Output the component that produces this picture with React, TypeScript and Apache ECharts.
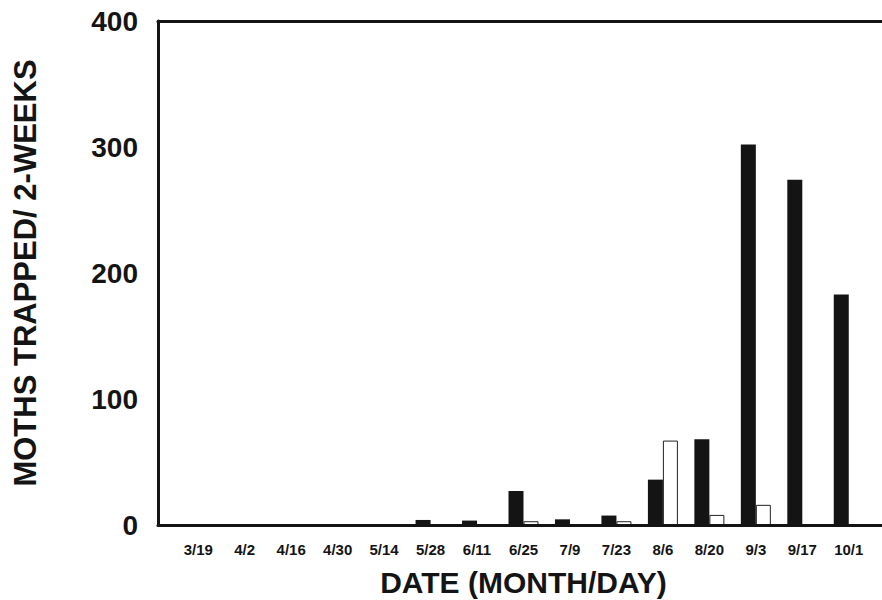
import React, { useEffect, useRef } from "react";
import * as echarts from "echarts";

const dates = ["3/19", "4/2", "4/16", "4/30", "5/14", "5/28", "6/11", "6/25", "7/9", "7/23", "8/6", "8/20", "9/3", "9/17", "10/1"];
const blackValues = [0, 0, 0, 0, 0, 4, 3.5, 27, 4.5, 7.5, 36, 68, 302, 274, 183];
const whiteValues = [0, 0, 0, 0, 0, 0, 0, 3, 0, 3, 67, 8, 16, 0, 0];
const yTicks = [0, 100, 200, 300, 400];

const FONT = "'Liberation Sans', Arial, Helvetica, sans-serif";
const INK = "#141414";

const nz = (arr: number[]) => arr.map((v) => (v === 0 ? null : v));

export default function App() {
  const ref = useRef<HTMLDivElement>(null);
  useEffect(() => {
    if (!ref.current) return;
    const chart = echarts.init(ref.current, undefined, { renderer: "svg" });
    const yMin = yTicks[0];
    const yMax = yTicks[yTicks.length - 1];
    const yInterval = yTicks[1] - yTicks[0];
    chart.setOption({
      animation: false,
      backgroundColor: "#ffffff",
      grid: [
        { left: 158, right: 0, top: 21, bottom: 75, containLabel: false, outerBoundsMode: "none" },
        { left: 175, right: 10, top: 21, bottom: 75, containLabel: false, outerBoundsMode: "none" },
      ],
      xAxis: [
        {
          gridIndex: 0,
          type: "category",
          data: [""],
          position: "bottom",
          axisLine: { show: true, lineStyle: { color: INK, width: 3 } },
          axisTick: { show: false },
          axisLabel: { show: false },
          splitLine: { show: false },
          z: 10,
        },
        {
          gridIndex: 0,
          type: "category",
          data: [""],
          position: "top",
          axisLine: { show: true, lineStyle: { color: INK, width: 3 } },
          axisTick: { show: false },
          axisLabel: { show: false },
          splitLine: { show: false },
        },
        {
          gridIndex: 1,
          type: "category",
          data: dates,
          axisLine: { show: false },
          axisTick: { show: false },
          axisLabel: {
            color: INK,
            fontFamily: FONT,
            fontWeight: "bold",
            fontSize: 15,
            margin: 17,
            interval: 0,
          },
          name: "DATE (MONTH/DAY)",
          nameLocation: "middle",
          nameGap: 42,
          nameTextStyle: {
            color: INK,
            fontFamily: FONT,
            fontWeight: "bold",
            fontSize: 30,
          },
        },
      ],
      yAxis: [
        {
          gridIndex: 0,
          type: "value",
          min: yMin,
          max: yMax,
          interval: yInterval,
          axisLine: { show: true, lineStyle: { color: INK, width: 3 } },
          axisTick: { show: false },
          splitLine: { show: false },
          axisLabel: {
            color: INK,
            fontFamily: FONT,
            fontWeight: "bold",
            fontSize: 28,
            margin: 20,
          },
          name: "MOTHS TRAPPED/ 2-WEEKS",
          nameLocation: "middle",
          nameGap: 117,
          nameTextStyle: {
            color: INK,
            fontFamily: FONT,
            fontWeight: "bold",
            fontSize: 31,
          },
        },
        {
          gridIndex: 1,
          type: "value",
          min: yMin,
          max: yMax,
          interval: yInterval,
          show: false,
        },
      ],
      series: [
        {
          type: "bar",
          xAxisIndex: 2,
          yAxisIndex: 1,
          data: nz(blackValues),
          barWidth: 15,
          barGap: "0%",
          itemStyle: { color: INK },
        },
        {
          type: "bar",
          xAxisIndex: 2,
          yAxisIndex: 1,
          data: nz(whiteValues),
          barWidth: 15,
          barGap: "0%",
          itemStyle: { color: "#ffffff", borderColor: "#222222", borderWidth: 1 },
        },
      ],
    });
    return () => chart.dispose();
  }, []);
  return (
    <div
      ref={ref}
      style={{ position: "fixed", left: 0, top: 0, width: 882, height: 600, background: "#fff" }}
    />
  );
}
